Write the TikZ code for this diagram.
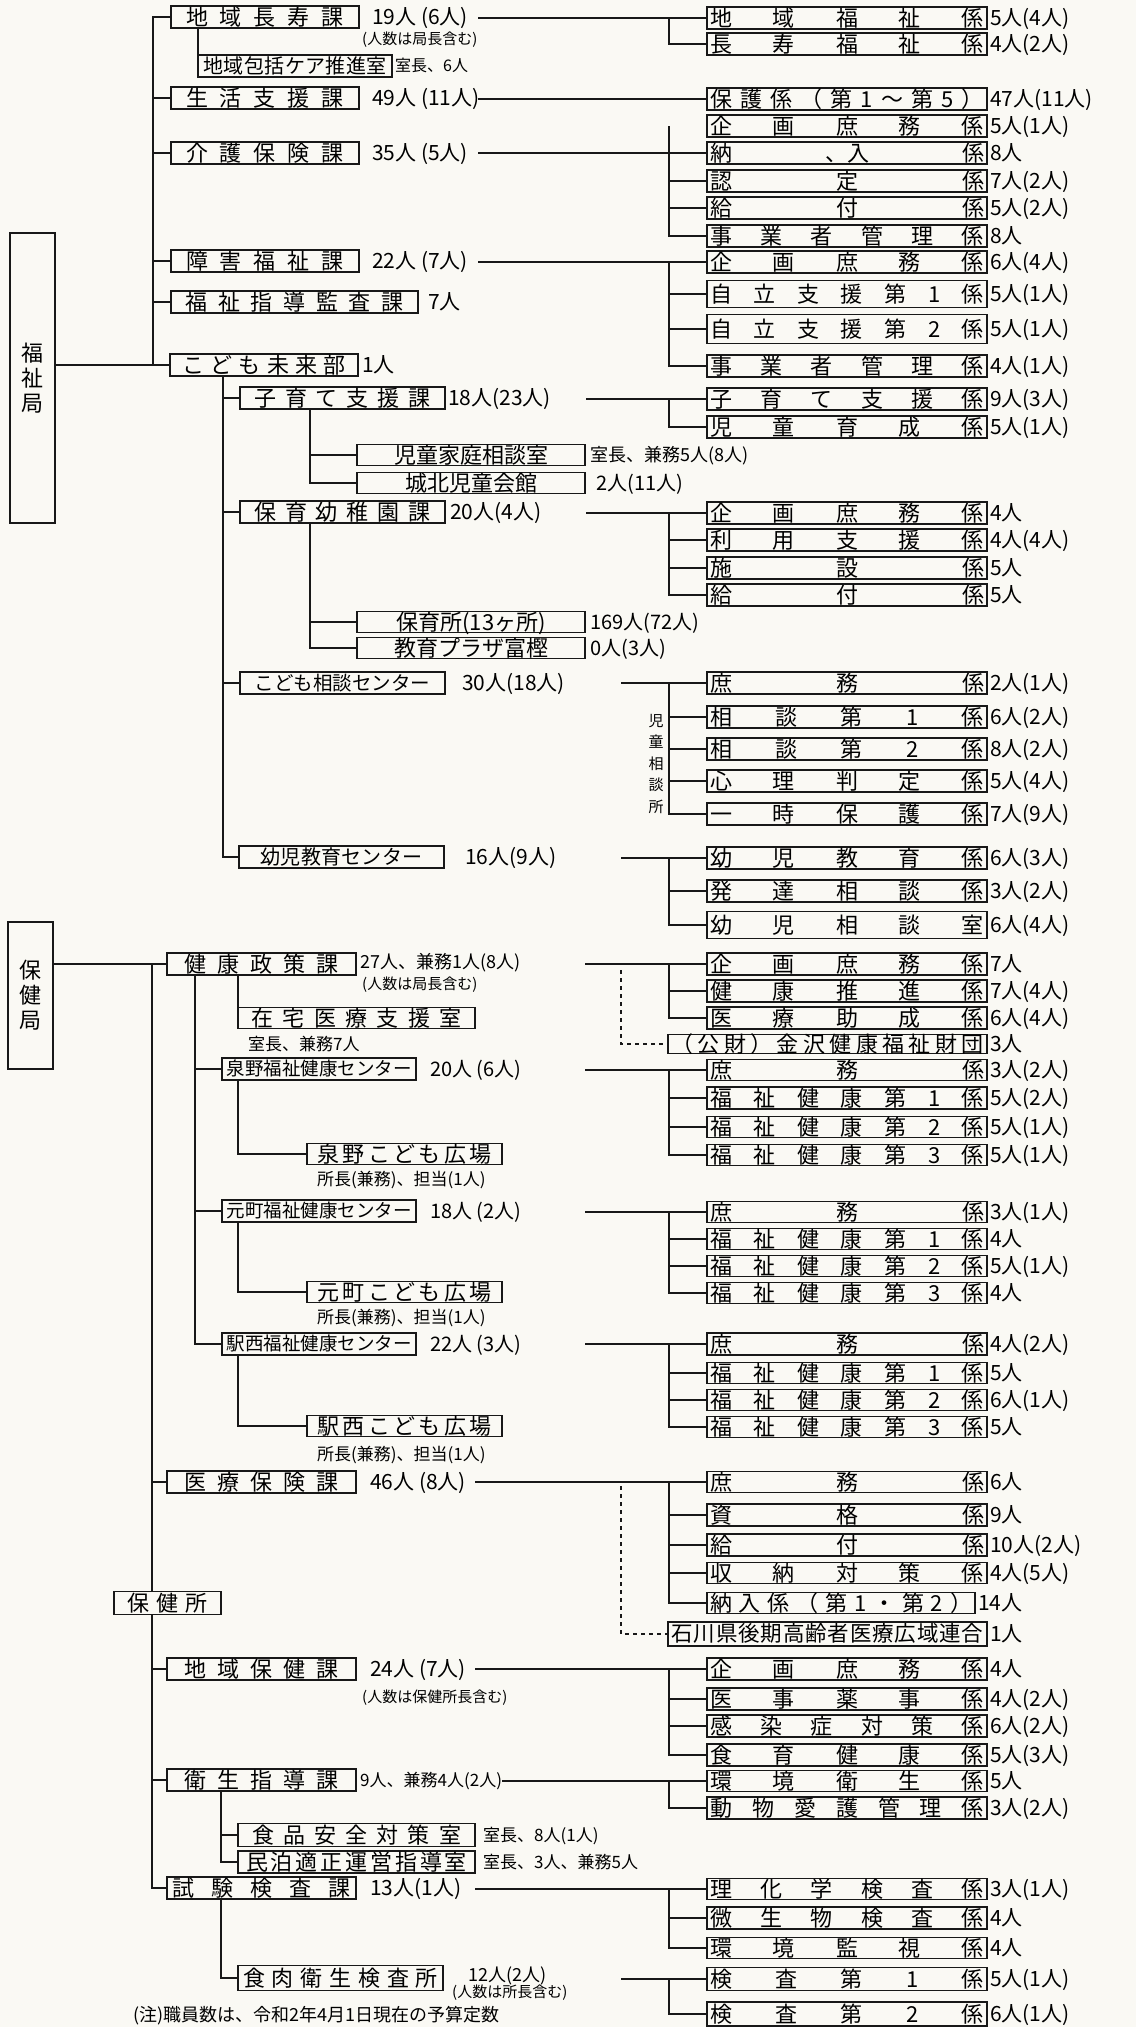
\documentclass[tikz,border=0pt]{standalone}
\usepackage{fontspec}
\setmainfont{Noto Sans CJK JP}
\definecolor{bg}{RGB}{250,249,244}
\definecolor{ink}{RGB}{24,24,24}
\newcommand\fsz[1]{\fontsize{#1}{#1}\selectfont}
\newcommand\vc[1]{\raisebox{-0.37em}[0pt][0pt]{#1}}
\makeatletter
\def\dst@#1#2\@nil{#1\if\relax\detokenize{#2}\relax\else\hfill\dst@#2\@nil\fi}
\newcommand\dst[1]{\dst@#1\@nil}
\makeatother
\tikzset{
 ln/.style={draw=ink,line width=1.7pt},
 dsh/.style={draw=ink,line width=1.4pt,dash pattern=on 4pt off 4pt},
 bx/.style={draw=ink,line width=1.7pt,inner sep=0pt,outer sep=0pt,font=\fsz{22}},
 vbx/.style={draw=ink,line width=1.7pt,inner sep=0pt,align=center,font=\fontsize{22}{25}\selectfont},
}
% \Bx[opts]{name}{x1}{x2}{yc}{h}{spreadwidth}{text}
\newcommand\Bx[8][]{\node[bx,#1,minimum width={#4-#3},minimum height=#6] (#2) at ({(#3+#4)/2},#5) {\vc{\makebox[#7pt][s]{\dst{#8}}}};}
% \Bt[opts]{name}{x1}{x2}{yc}{h}{text}  plain text
\newcommand\Bt[7][]{\node[bx,#1,minimum width={#4-#3},minimum height=#6] (#2) at ({(#3+#4)/2},#5) {\vc{#7}};}
% \Kk{name}{yc}{h}{text}{count}
\newcommand\Kk[5]{\Bx{#1}{707}{987}{#2}{#3}{274}{#4}\node[inner sep=0pt,anchor=west,font=\fsz{21}] (#1n) at (990,#2) {\vc{#5}};}
\newcommand\Lbl[5][21]{\node[inner sep=0pt,anchor=west,font=\fsz{#1}] (#2) at (#3,#4) {\vc{#5}};}
\newcommand\busline[2]{\draw[ln] (#1.west) ++(-38,0) |- (#2.west);}
\newcommand\stubs[1]{\foreach \m in {#1} {\draw[ln] (\m.west) -- ++(-38,0);}}
\begin{document}
\begin{tikzpicture}[x=1pt,y=-1pt]
\fill[bg] (0,0) rectangle (1136,2027);
\useasboundingbox (0,0) rectangle (1136,2027);

%%%%%%%%%%%%%%%% 福祉局
\node[vbx,minimum width=45,minimum height=290] (fk) at (32.5,378) {福\\祉\\局};
\Bx{wa}{171}{359}{17}{22}{158}{地域長寿課}
\Bx[font=\fsz{20}]{wb}{198}{392}{66}{22}{183}{地域包括ケア推進室}
\Bx{wc}{171}{359}{98}{22}{158}{生活支援課}
\Bx{wd}{171}{359}{153}{22}{158}{介護保険課}
\Bx{we}{171}{359}{261}{22}{158}{障害福祉課}
\Bx{wf}{171}{418}{302}{22}{218}{福祉指導監査課}
\Bx{wg}{170}{358}{365}{22}{163}{こども未来部}
\coordinate (tW) at (153,365);
\draw[ln] (wa.west) -| (tW);
\foreach \n in {wc,wd,we,wf} {\draw[ln] (\n.west) -- (\n.west -| tW);}
\draw[ln] (fk.east |- wg.west) -- (wg.west);
\draw[ln] (wa.south -| wb.west) -- (wb.north west);

\Lbl{la}{372}{17}{19人 (6人)}
\Lbl[15]{la2}{362}{39}{(人数は局長含む)}
\Lbl[16]{lb}{395}{66}{室長、6人}
\Lbl{lc}{372}{98}{49人 (11人)}
\Lbl{ld}{372}{153}{35人 (5人)}
\Lbl{le}{372}{261}{22人 (7人)}
\Lbl{lf}{428}{302}{7人}
\Lbl{lg}{362}{365}{1人}

% 係
\Kk{k11}{18}{22}{地域福祉係}{5人(4人)}
\Kk{k12}{44}{22}{長寿福祉係}{4人(2人)}
\Kk{k21}{99}{22}{保護係（第1～第5）}{47人(11人)}
\Kk{k31}{126}{22}{企画庶務係}{5人(1人)}
\Kk{k32}{153}{22}{納{、入}係}{8人}
\Kk{k33}{181}{22}{認定係}{7人(2人)}
\Kk{k34}{208}{22}{給付係}{5人(2人)}
\Kk{k35}{236}{22}{事業者管理係}{8人}
\Kk{k41}{262}{22}{企画庶務係}{6人(4人)}
\Kk{k42}{294}{27}{自立支援第1係}{5人(1人)}
\Kk{k43}{329}{29}{自立支援第2係}{5人(1人)}
\Kk{k44}{366}{22}{事業者管理係}{4人(1人)}

\coordinate (sA) at (478,18);
\draw[ln] (sA) -- (k11.west);
\busline{k11}{k12}
\coordinate (sC) at (478,99);
\draw[ln] (sC) -- (k21.west);
\coordinate (sD) at (478,153);
\draw[ln] (sD) -- (k32.west);
\busline{k31}{k35}
\stubs{k33,k34}
\coordinate (sE) at (478,262);
\draw[ln] (sE) -- (k41.west);
\busline{k41}{k44}
\stubs{k42,k43}

% こども未来部
\Bx{ka}{240}{445}{398}{22}{177}{子育て支援課}
\Bx{kb}{240}{445}{512}{22}{177}{保育幼稚園課}
\Bx[font=\fsz{19.5}]{kc}{240}{445}{683}{22}{176}{こども相談センター}
\Bx[font=\fsz{20}]{kd}{239}{444}{857}{22}{162}{幼児教育センター}
\coordinate (tK) at (223,376);
\draw[ln] (tK) |- (kd.west);
\foreach \n in {ka,kb,kc} {\draw[ln] (\n.west) -- (\n.west -| tK);}
\Lbl{lka}{448}{398}{18人(23人)}
\Lbl{lkb}{450}{512}{20人(4人)}
\Lbl{lkc}{462}{683}{30人(18人)}
\Lbl{lkd}{465}{857}{16人(9人)}

\Bx{kaa}{357}{585}{455}{21}{154}{児童家庭相談室}
\Bx{kab}{357}{585}{483}{21}{132}{城北児童会館}
\coordinate (tKa) at (310,409);
\draw[ln] (tKa) |- (kab.west);
\draw[ln] (kaa.west) -- (kaa.west -| tKa);
\Lbl[18]{lkaa}{590}{455}{室長、兼務5人(8人)}
\Lbl[20]{lkab}{596}{483}{2人(11人)}

\Bt{kba}{357}{585}{622}{21}{保育所(13ヶ所)}
\Bt{kbb}{357}{585}{648}{21}{教育プラザ富樫}
\coordinate (tKb) at (310,523);
\draw[ln] (tKb) |- (kbb.west);
\draw[ln] (kba.west) -- (kba.west -| tKb);
\Lbl[20]{lkba}{590}{622}{169人(72人)}
\Lbl[20]{lkbb}{590}{648}{0人(3人)}

\Kk{k51}{399}{22}{子育て支援係}{9人(3人)}
\Kk{k52}{427}{22}{児童育成係}{5人(1人)}
\Kk{k61}{513}{22}{企画庶務係}{4人}
\Kk{k62}{540}{22}{利用支援係}{4人(4人)}
\Kk{k63}{568}{22}{施設係}{5人}
\Kk{k64}{595}{22}{給付係}{5人}
\Kk{k71}{683}{22}{庶務係}{2人(1人)}
\Kk{k72}{717}{22}{相談第1係}{6人(2人)}
\Kk{k73}{749}{22}{相談第2係}{8人(2人)}
\Kk{k74}{781}{22}{心理判定係}{5人(4人)}
\Kk{k75}{814}{22}{一時保護係}{7人(9人)}
\Kk{k81}{858}{22}{幼児教育係}{6人(3人)}
\Kk{k82}{891}{22}{発達相談係}{3人(2人)}
\Kk{k83}{925}{27}{幼児相談室}{6人(4人)}

\coordinate (sKa) at (586,399);
\draw[ln] (sKa) -- (k51.west);
\busline{k51}{k52}
\coordinate (sKb) at (586,513);
\draw[ln] (sKb) -- (k61.west);
\busline{k61}{k64}
\stubs{k62,k63}
\coordinate (sKc) at (621,683);
\draw[ln] (sKc) -- (k71.west);
\busline{k71}{k75}
\stubs{k72,k73,k74}
\coordinate (sKd) at (621,858);
\draw[ln] (sKd) -- (k81.west);
\busline{k81}{k83}
\stubs{k82}
\node[inner sep=0pt,align=center,font=\fontsize{15}{21.5}\selectfont] (jiso) at (656,764) {児\\童\\相\\談\\所};

%%%%%%%%%%%%%%%% 保健局
\node[vbx,minimum width=45,minimum height=147] (hk) at (30.5,995.5) {保\\健\\局};
\Bx{ha}{167}{356}{964}{22}{155}{健康政策課}
\draw[ln] (hk.east |- ha.west) -- (ha.west);
\Bx{hf}{167}{356}{1482}{22}{155}{医療保険課}
\Bx{hh}{167}{356}{1669}{22}{155}{地域保健課}
\Bx{hi}{167}{356}{1780}{22}{155}{衛生指導課}
\Bx{hj}{167}{356}{1888}{22}{178}{試験検査課}
\coordinate (tH) at (152,964);
\draw[ln] (tH) |- (hj.west);
\foreach \n in {hf,hh,hi} {\draw[ln] (\n.west) -- (\n.west -| tH);}
\Bx[fill=bg]{hg}{114}{221}{1603}{23}{80}{保健所}

\Lbl[18]{lha}{360}{962}{27人、兼務1人(8人)}
\Lbl[15]{lha2}{362}{984}{(人数は局長含む)}
\Lbl{lhf}{370}{1482}{46人 (8人)}
\Lbl{lhh}{370}{1669}{24人 (7人)}
\Lbl[15]{lhh2}{362}{1697}{(人数は保健所長含む)}
\Lbl[17]{lhi}{360}{1780}{9人、兼務4人(2人)}
\Lbl{lhj}{370}{1888}{13人(1人)}

\Bx{zt}{238}{475}{1018}{21}{210}{在宅医療支援室}
\draw[ln] (ha.south -| zt.west) -- (zt.north west);
\Lbl[17]{lzt}{248}{1044}{室長、兼務7人}

\Bt[font=\fsz{18.5}]{hb}{222}{416}{1069}{22}{泉野福祉健康センター}
\Bt[font=\fsz{18.5}]{hc}{222}{416}{1211}{22}{元町福祉健康センター}
\Bt[font=\fsz{18.5}]{hd}{222}{416}{1344}{22}{駅西福祉健康センター}
\coordinate (tH2) at (195,975);
\draw[ln] (tH2) |- (hd.west);
\foreach \n in {hb,hc} {\draw[ln] (\n.west) -- (\n.west -| tH2);}
\Lbl[20]{lhb}{430}{1069}{20人 (6人)}
\Lbl[20]{lhc}{430}{1211}{18人 (2人)}
\Lbl[20]{lhd}{430}{1344}{22人 (3人)}

\Bx{hb2}{307}{502}{1154}{21}{174}{泉野こども広場}
\Bx{hc2}{307}{502}{1292}{21}{174}{元町こども広場}
\Bx{hd2}{307}{502}{1426}{21}{174}{駅西こども広場}
\draw[ln] (hb.south -| zt.west) |- (hb2.west);
\draw[ln] (hc.south -| zt.west) |- (hc2.west);
\draw[ln] (hd.south -| zt.west) |- (hd2.west);
\Lbl[17]{lhb2}{317}{1179}{所長(兼務)、担当(1人)}
\Lbl[17]{lhc2}{317}{1317}{所長(兼務)、担当(1人)}
\Lbl[17]{lhd2}{317}{1454}{所長(兼務)、担当(1人)}

% 係 (健康政策課)
\Kk{kk1}{964}{22}{企画庶務係}{7人}
\Kk{kk2}{991}{22}{健康推進係}{7人(4人)}
\Kk{kk3}{1018}{22}{医療助成係}{6人(4人)}
\coordinate (sHa) at (585,964);
\draw[ln] (sHa) -- (kk1.west);
\busline{kk1}{kk3}
\stubs{kk2}
\Bx{kz}{668}{987}{1044}{19}{312}{（公財）金沢健康福祉財団}
\node[inner sep=0pt,anchor=west,font=\fsz{21}] (kzn) at (990,1044) {\vc{3人}};
\coordinate (dHa) at (621,970);
\draw[dsh] (dHa) |- (kz.west);

\Kk{ki1}{1070}{21}{庶務係}{3人(2人)}
\Kk{ki2}{1098}{22}{福祉健康第1係}{5人(2人)}
\Kk{ki3}{1127}{21}{福祉健康第2係}{5人(1人)}
\Kk{ki4}{1155}{21}{福祉健康第3係}{5人(1人)}
\coordinate (sHb) at (585,1070);
\draw[ln] (sHb) -- (ki1.west);
\busline{ki1}{ki4}
\stubs{ki2,ki3}

\Kk{km1}{1212}{21}{庶務係}{3人(1人)}
\Kk{km2}{1239}{21}{福祉健康第1係}{4人}
\Kk{km3}{1266}{21}{福祉健康第2係}{5人(1人)}
\Kk{km4}{1293}{21}{福祉健康第3係}{4人}
\coordinate (sHc) at (585,1212);
\draw[ln] (sHc) -- (km1.west);
\busline{km1}{km4}
\stubs{km2,km3}

\Kk{ke1}{1344}{22}{庶務係}{4人(2人)}
\Kk{ke2}{1373}{21}{福祉健康第1係}{5人}
\Kk{ke3}{1400}{21}{福祉健康第2係}{6人(1人)}
\Kk{ke4}{1427}{21}{福祉健康第3係}{5人}
\coordinate (sHd) at (585,1344);
\draw[ln] (sHd) -- (ke1.west);
\busline{ke1}{ke4}
\stubs{ke2,ke3}

\Kk{kr1}{1482}{21}{庶務係}{6人}
\Kk{kr2}{1515}{22}{資格係}{9人}
\Kk{kr3}{1545}{22}{給付係}{10人(2人)}
\Kk{kr4}{1573}{21}{収納対策係}{4人(5人)}
\Bx{kr5}{707}{975}{1603}{21}{262}{納入係（第1・第2）}
\node[inner sep=0pt,anchor=west,font=\fsz{21}] (kr5n) at (978,1603) {\vc{14人}};
\coordinate (sHf) at (475,1482);
\draw[ln] (sHf) -- (kr1.west);
\busline{kr1}{kr5}
\stubs{kr2,kr3,kr4}
\Bx[font=\fsz{21.5}]{kw}{668}{987}{1634}{24}{312}{石川県後期高齢者医療広域連合}
\node[inner sep=0pt,anchor=west,font=\fsz{21}] (kwn) at (990,1634) {\vc{1人}};
\coordinate (dHf) at (621,1486);
\draw[dsh] (dHf) |- (kw.west);

\Kk{kc1}{1669}{22}{企画庶務係}{4人}
\Kk{kc2}{1699}{22}{医事薬事係}{4人(2人)}
\Kk{kc3}{1726}{22}{感染症対策係}{6人(2人)}
\Kk{kc4}{1755}{22}{食育健康係}{5人(3人)}
\coordinate (sHh) at (475,1669);
\draw[ln] (sHh) -- (kc1.west);
\busline{kc1}{kc4}
\stubs{kc2,kc3}

\Kk{ks1}{1781}{21}{環境衛生係}{5人}
\Kk{ks2}{1808}{22}{動物愛護管理係}{3人(2人)}
\coordinate (sHi) at (502,1781);
\draw[ln] (sHi) -- (ks1.west);
\busline{ks1}{ks2}

\Bx{hi1}{238}{475}{1835}{23}{209}{食品安全対策室}
\Bx{hi2}{238}{475}{1862}{22}{221}{民泊適正運営指導室}
\coordinate (tHi) at (221,1791);
\draw[ln] (tHi) |- (hi2.west);
\draw[ln] (hi1.west) -- (hi1.west -| tHi);
\Lbl[17]{lhi1}{483}{1835}{室長、8人(1人)}
\Lbl[17]{lhi2}{483}{1862}{室長、3人、兼務5人}

\Kk{kt1}{1889}{21}{理化学検査係}{3人(1人)}
\Kk{kt2}{1918}{22}{微生物検査係}{4人}
\Kk{kt3}{1948}{21}{環境監視係}{4人}
\coordinate (sHj) at (475,1889);
\draw[ln] (sHj) -- (kt1.west);
\busline{kt1}{kt3}
\stubs{kt2}

\Bx{hj1}{238}{443}{1978}{25}{195}{食肉衛生検査所}
\coordinate (tHj) at (221,1899);
\draw[ln] (tHj) |- (hj1.west);
\Lbl[18]{lhj1}{468}{1975}{12人(2人)}
\Lbl[15]{lhj2}{452}{1992}{(人数は所長含む)}

\Kk{kn1}{1979}{23}{検査第1係}{5人(1人)}
\Kk{kn2}{2014}{24}{検査第2係}{6人(1人)}
\coordinate (sHk) at (621,1979);
\draw[ln] (sHk) -- (kn1.west);
\busline{kn1}{kn2}

\node[inner sep=0pt,anchor=south west,font=\fsz{18}] (note) at (133,2025) {(注)職員数は、令和2年4月1日現在の予算定数};
\end{tikzpicture}
\end{document}
